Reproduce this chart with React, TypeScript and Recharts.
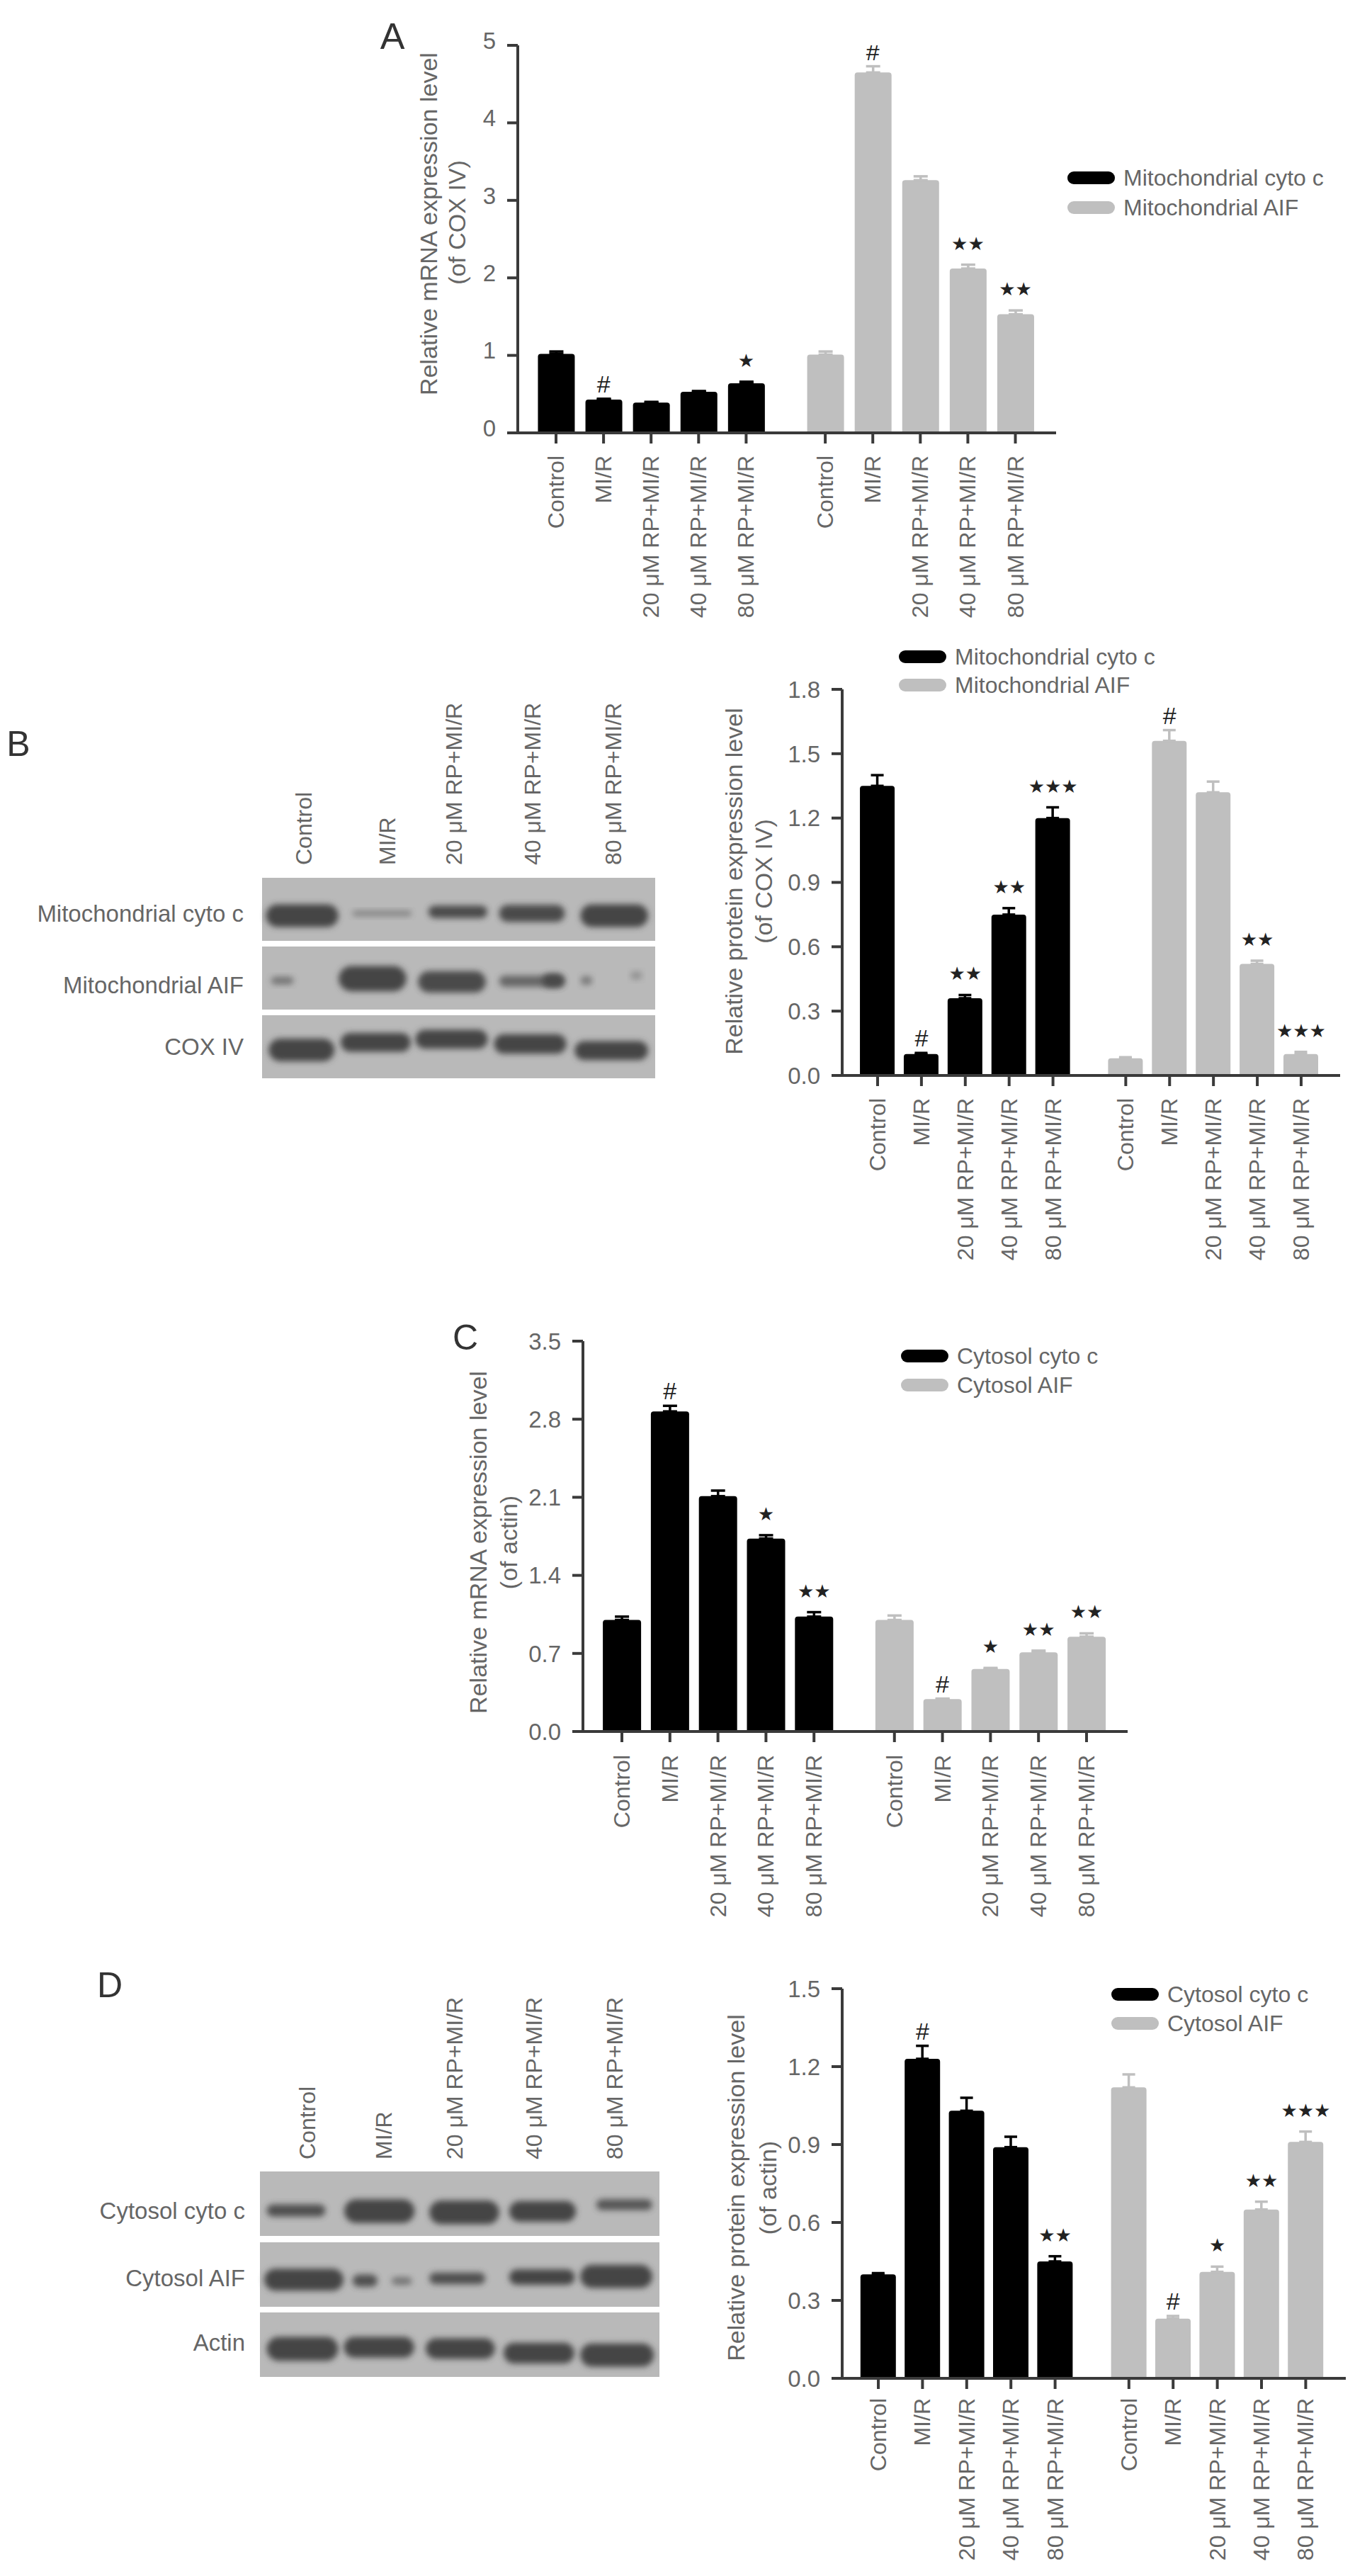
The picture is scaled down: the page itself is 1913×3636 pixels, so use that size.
import { Bar, ComposedChart, ErrorBar, Line, XAxis, YAxis } from "recharts";

const categories = ["Control", "MI/R", "20 μM RP+MI/R", "40 μM RP+MI/R", "80 μM RP+MI/R"];

// panel A - mRNA, mitochondrial
const aCyto = [1.02, 0.43, 0.39, 0.53, 0.64];
const aCytoErr = [0.03, 0.01, 0.01, 0.01, 0.02];
const aAif = [1.01, 4.65, 3.26, 2.12, 1.53];
const aAifErr = [0.04, 0.08, 0.05, 0.05, 0.05];
const aCytoMarks = ["", "#", "", "", "*"];
const aAifMarks = ["", "#", "", "**", "**"];
const aTicks = [0, 1, 2, 3, 4, 5];

// panel B - protein, mitochondrial
const bCyto = [1.35, 0.1, 0.36, 0.75, 1.2];
const bCytoErr = [0.05, 0.005, 0.015, 0.03, 0.05];
const bAif = [0.08, 1.56, 1.32, 0.52, 0.1];
const bAifErr = [0.005, 0.05, 0.05, 0.015, 0.01];
const bCytoMarks = ["", "#", "**", "**", "***"];
const bAifMarks = ["", "#", "", "**", "***"];
const bTicks = [0, 0.3, 0.6, 0.9, 1.2, 1.5, 1.8];

// panel C - mRNA, cytosol
const cCyto = [1.0, 2.87, 2.11, 1.73, 1.03];
const cCytoErr = [0.03, 0.05, 0.05, 0.03, 0.04];
const cAif = [1.0, 0.29, 0.56, 0.71, 0.85];
const cAifErr = [0.04, 0.005, 0.01, 0.015, 0.03];
const cCytoMarks = ["", "#", "", "*", "**"];
const cAifMarks = ["", "#", "*", "**", "**"];
const cTicks = [0, 0.7, 1.4, 2.1, 2.8, 3.5];

// panel D - protein, cytosol
const dCyto = [0.4, 1.23, 1.03, 0.89, 0.45];
const dCytoErr = [0.005, 0.05, 0.05, 0.04, 0.02];
const dAif = [1.12, 0.23, 0.41, 0.65, 0.91];
const dAifErr = [0.05, 0.01, 0.02, 0.03, 0.04];
const dCytoMarks = ["", "#", "", "", "**"];
const dAifMarks = ["", "#", "*", "**", "***"];
const dTicks = [0, 0.3, 0.6, 0.9, 1.2, 1.5];

const FONT = "'Liberation Sans', Arial, sans-serif";
const TEXT = "#666666";
const AXIS = "#3a3a3a";
const BLACK = "#000000";
const GREY = "#bfbfbf";

function buildRows(cyto, cytoErr, aif, aifErr, cytoMarks, aifMarks, groupGap) {
  const first = cyto.map((v, i) => ({
    x: i,
    label: categories[i],
    cyto: v,
    cytoErr: [0, cytoErr[i]],
    markY: cytoMarks[i] ? v + cytoErr[i] : undefined,
    mark: cytoMarks[i],
  }));
  const second = aif.map((v, i) => ({
    x: 4 + groupGap + i,
    label: categories[i],
    aif: v,
    aifErr: [0, aifErr[i]],
    markY: aifMarks[i] ? v + aifErr[i] : undefined,
    mark: aifMarks[i],
  }));
  return [...first, ...second];
}

function markDot(p) {
  const { cx, cy, payload, index } = p;
  if (!payload.mark || cy == null) return <g key={index} />;
  const hash = payload.mark === "#";
  return (
    <text
      key={index}
      x={cx}
      y={cy - (hash ? 21 : 30)}
      textAnchor="middle"
      dominantBaseline="central"
      fontFamily={hash ? FONT : "'DejaVu Sans'"}
      fontSize={hash ? 34 : 26}
      fill="#222"
    >
      {hash ? "#" : payload.mark.replace(/\*/g, "★")}
    </text>
  );
}

function BarPanel({ rows, axisX, axisEnd, yTop, y0, ticks, decimals, slot, first, barW, capW, labelTop, tickDy = 0 }) {
  const leftW = 200;
  const topM = 50;
  const bottomH = 300;
  const tickLen = 15;
  const labelFor = (x) => rows.find((r) => r.x === x)?.label;
  return (
    <div style={{ position: "absolute", left: axisX - leftW, top: yTop - topM }}>
      <ComposedChart
        width={leftW + axisEnd - axisX}
        height={topM + y0 - yTop + bottomH}
        data={rows}
        margin={{ top: topM, right: 0, bottom: 0, left: 0 }}
      >
        <XAxis
          dataKey="x"
          type="number"
          height={bottomH}
          domain={[-(first - axisX) / slot, (axisEnd - first) / slot]}
          ticks={rows.map((r) => r.x)}
          interval={0}
          allowDataOverflow
          axisLine={{ stroke: AXIS, strokeWidth: 4 }}
          tickLine={{ stroke: AXIS, strokeWidth: 4 }}
          tickSize={tickLen}
          tickMargin={labelTop - y0 - tickLen}
          tick={(p) => (
            <text
              key={p.index}
              x={p.x}
              y={p.y}
              transform={`rotate(-90 ${p.x} ${p.y})`}
              textAnchor="end"
              dominantBaseline="central"
              fontFamily={FONT}
              fontSize={32}
              fill={TEXT}
            >
              {labelFor(p.payload.value)}
            </text>
          )}
        />
        <YAxis
          width={leftW}
          type="number"
          domain={[0, ticks[ticks.length - 1]]}
          ticks={ticks}
          interval={0}
          allowDataOverflow
          axisLine={{ stroke: AXIS, strokeWidth: 4 }}
          tickLine={{ stroke: AXIS, strokeWidth: 4 }}
          tickSize={tickLen}
          tickMargin={16}
          tick={{ fontFamily: FONT, fontSize: 33, fill: TEXT, dy: tickDy }}
          tickFormatter={(v) => v.toFixed(decimals)}
        />
        <Bar dataKey="cyto" stackId="s" fill={BLACK} barSize={barW} radius={[4, 4, 0, 0]} isAnimationActive={false}>
          <ErrorBar dataKey="cytoErr" direction="y" width={capW} stroke={BLACK} strokeWidth={3.5} isAnimationActive={false} />
        </Bar>
        <Bar dataKey="aif" stackId="s" fill={GREY} barSize={barW} radius={[4, 4, 0, 0]} isAnimationActive={false}>
          <ErrorBar dataKey="aifErr" direction="y" width={capW} stroke={GREY} strokeWidth={3.5} isAnimationActive={false} />
        </Bar>
        <Line dataKey="markY" stroke="none" dot={markDot} activeDot={false} legendType="none" isAnimationActive={false} />
      </ComposedChart>
    </div>
  );
}

function Label({ x, y, children, size = 32, anchor = "middle", rotate = false, family = FONT, fill = TEXT }) {
  return (
    <text
      x={x}
      y={y}
      transform={rotate ? `rotate(-90 ${x} ${y})` : undefined}
      textAnchor={anchor}
      dominantBaseline="central"
      fontFamily={family}
      fontSize={size}
      fill={fill}
    >
      {children}
    </text>
  );
}

function KeyEntry({ x, y, color, name }) {
  return (
    <g>
      <rect x={x} y={y - 9} width={67} height={18} rx={9} fill={color} />
      <Label x={x + 79} y={y} anchor="start" size={32}>
        {name}
      </Label>
    </g>
  );
}

// western blot strips: [left %, width %, top %, height %, darkness] of each band
const blotB = [
  [[1, 18.4, 42, 36, 1], [23, 15, 52, 9, 0.45], [42.3, 15, 44, 20, 0.95], [60.3, 16.7, 43, 27, 0.95], [81, 17.2, 42, 36, 1]],
  [[2.3, 5.7, 48, 12, 0.6], [19.5, 17.2, 31, 40, 1], [39.7, 17.2, 39, 34, 0.95], [60.3, 16.7, 46, 18, 0.7], [71.3, 5.5, 43, 22, 0.9], [81, 3, 47, 14, 0.55], [93.7, 3, 40, 12, 0.35]],
  [[1.7, 16.7, 37, 36, 1], [20, 17.8, 28, 30, 1], [39, 18.4, 23, 30, 1], [59, 18.4, 30, 31, 1], [79.5, 18.7, 41, 30, 1]],
];
const blotD = [
  [[1.7, 14.7, 51, 19, 0.9], [21.1, 17.6, 43, 37, 1], [42.4, 17.5, 45, 37, 1], [62.4, 16.7, 46, 32, 1], [84.2, 14, 43, 17, 0.85]],
  [[1.1, 19.8, 41, 34, 1], [23.2, 6.2, 50, 19, 0.9], [33, 5, 54, 12, 0.6], [42.4, 14, 47, 18, 0.9], [62.4, 16.4, 42, 24, 1], [80.2, 18, 35, 36, 1]],
  [[1.7, 17.9, 38, 37, 1], [21, 17.6, 38, 32, 1], [41.5, 17.3, 40, 32, 1], [61, 17.7, 47, 32, 1], [80.2, 18.4, 48, 36, 1]],
];

function Blot({ x, w, rowsY, rowH, bands }) {
  return (
    <g>
      {bands.map((row, r) => (
        <g key={r}>
          <rect x={x} y={rowsY[r]} width={w} height={rowH} fill="#b9b9b9" />
          {row.map(([l, bw, t, h, d], i) => (
            <rect
              key={i}
              x={x + (l * w) / 100}
              y={rowsY[r] + (t * rowH) / 100}
              width={(bw * w) / 100}
              height={(h * rowH) / 100}
              rx={(h * rowH) / 200}
              fill="#444444"
              opacity={d}
              filter="url(#blur)"
            />
          ))}
        </g>
      ))}
    </g>
  );
}

export default function App() {
  const rowsA = buildRows(aCyto, aCytoErr, aAif, aAifErr, aCytoMarks, aAifMarks, 1.665);
  const rowsB = buildRows(bCyto, bCytoErr, bAif, bAifErr, bCytoMarks, bAifMarks, 1.66);
  const rowsC = buildRows(cCyto, cCytoErr, cAif, cAifErr, cCytoMarks, cAifMarks, 1.675);
  const rowsD = buildRows(dCyto, dCytoErr, dAif, dAifErr, dCytoMarks, dAifMarks, 1.67);

  return (
    <div style={{ position: "absolute", left: 0, top: 0, width: 1913, height: 3636, background: "#fff", overflow: "hidden" }}>
      <BarPanel rows={rowsA} axisX={731} axisEnd={1491} yTop={64} y0={611} ticks={aTicks} decimals={0} slot={67.1} first={785} barW={52} capW={10} labelTop={643} tickDy={-7} />
      <BarPanel rows={rowsB} axisX={1189} axisEnd={1892} yTop={973} y0={1518} ticks={bTicks} decimals={1} slot={61.9} first={1239} barW={49} capW={9} labelTop={1550} />
      <BarPanel rows={rowsC} axisX={823} axisEnd={1592} yTop={1893} y0={2444} ticks={cTicks} decimals={1} slot={67.8} first={878} barW={54} capW={10} labelTop={2477} />
      <BarPanel rows={rowsD} axisX={1189} axisEnd={1900} yTop={2807} y0={3357} ticks={dTicks} decimals={1} slot={62.4} first={1240} barW={50} capW={9} labelTop={3385} />

      <svg width={1913} height={3636} style={{ position: "absolute", left: 0, top: 0, pointerEvents: "none" }}>
        <defs>
          <filter id="blur" x="-30%" y="-60%" width="160%" height="220%">
            <feGaussianBlur stdDeviation="4" />
          </filter>
        </defs>

        {/* panel letters */}
        <Label x={554} y={51} size={52} family="'Liberation Sans Narrow', 'Liberation Sans'" fill="#333">A</Label>
        <Label x={26} y={1050} size={50} fill="#333">B</Label>
        <Label x={657} y={1888} size={50} fill="#333">C</Label>
        <Label x={155} y={2802} size={50} fill="#333">D</Label>

        {/* y titles */}
        <Label x={605} y={316} size={34} rotate>Relative mRNA expression level</Label>
        <Label x={645} y={314} size={34} rotate>(of COX IV)</Label>
        <Label x={1036} y={1244} size={34} rotate>Relative protein expression level</Label>
        <Label x={1078} y={1244} size={34} rotate>(of COX IV)</Label>
        <Label x={675} y={2177} size={34} rotate>Relative mRNA expression level</Label>
        <Label x={718} y={2177} size={34} rotate>(of actin)</Label>
        <Label x={1039} y={3088} size={34} rotate>Relative protein expression level</Label>
        <Label x={1084} y={3088} size={34} rotate>(of actin)</Label>

        {/* legends */}
        <KeyEntry x={1507} y={251} color={BLACK} name="Mitochondrial cyto c" />
        <KeyEntry x={1507} y={293} color={GREY} name="Mitochondrial AIF" />
        <KeyEntry x={1269} y={927} color={BLACK} name="Mitochondrial cyto c" />
        <KeyEntry x={1269} y={967} color={GREY} name="Mitochondrial AIF" />
        <KeyEntry x={1272} y={1914} color={BLACK} name="Cytosol cyto c" />
        <KeyEntry x={1272} y={1955} color={GREY} name="Cytosol AIF" />
        <KeyEntry x={1569} y={2815} color={BLACK} name="Cytosol cyto c" />
        <KeyEntry x={1569} y={2856} color={GREY} name="Cytosol AIF" />

        {/* blot B */}
        <Blot x={370} w={555} rowsY={[1239, 1336, 1433]} rowH={89} bands={blotB} />
        {[429, 547, 641, 752, 866].map((x, i) => (
          <Label key={i} x={x} y={1221} anchor="start" rotate>{categories[i]}</Label>
        ))}
        <Label x={344} y={1289} anchor="end" size={33}>Mitochondrial cyto c</Label>
        <Label x={344} y={1390} anchor="end" size={33}>Mitochondrial AIF</Label>
        <Label x={344} y={1477} anchor="end" size={33}>COX IV</Label>

        {/* blot D */}
        <Blot x={367} w={564} rowsY={[3065, 3165, 3264]} rowH={91} bands={blotD} />
        {[434, 542, 642, 754, 868].map((x, i) => (
          <Label key={i} x={x} y={3048} anchor="start" rotate>{categories[i]}</Label>
        ))}
        <Label x={346} y={3120} anchor="end" size={33}>Cytosol cyto c</Label>
        <Label x={346} y={3215} anchor="end" size={33}>Cytosol AIF</Label>
        <Label x={346} y={3306} anchor="end" size={33}>Actin</Label>
      </svg>
    </div>
  );
}
